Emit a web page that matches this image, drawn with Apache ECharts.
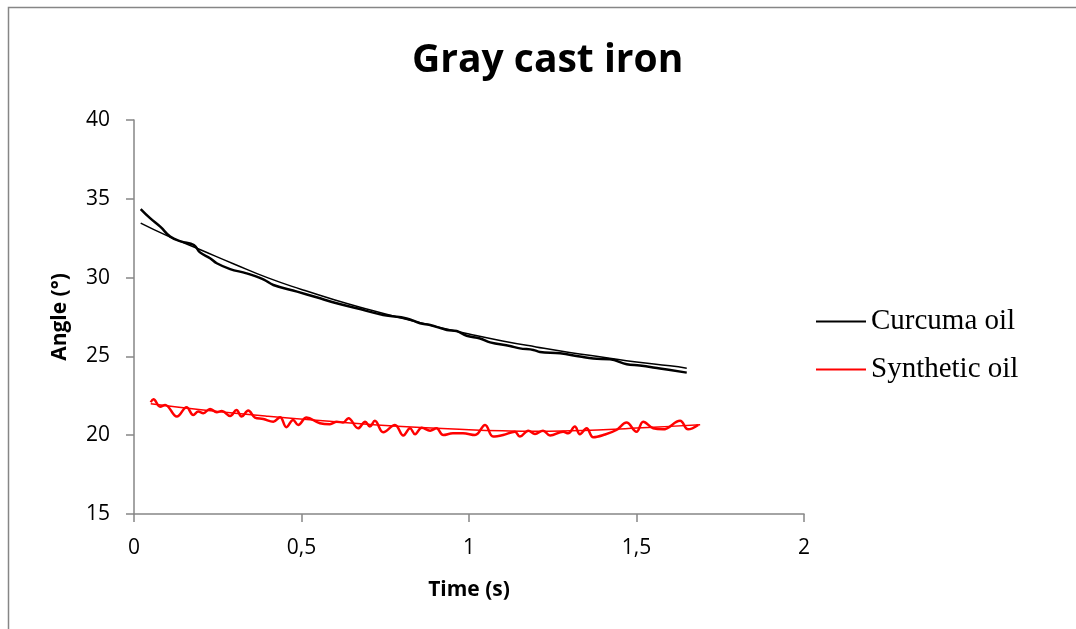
<!DOCTYPE html>
<html>
<head>
<meta charset="utf-8">
<script src="https://cdn.jsdelivr.net/npm/echarts@6/dist/echarts.min.js"></script>
<style>
  html, body { margin: 0; padding: 0; background: #fff; }
  #chart { width: 1076px; height: 629px; }
</style>
</head>
<body>
<div id="chart"></div>
<script>
// values: [time (s), angle (deg)]
const curcumaData = [
  [0.02, 34.35], [0.048, 33.77], [0.08, 33.2], [0.108, 32.6], [0.14, 32.3],
  [0.179, 32.07], [0.197, 31.6], [0.227, 31.23], [0.247, 30.91], [0.287, 30.54],
  [0.336, 30.27], [0.386, 29.89], [0.416, 29.53], [0.487, 29.11], [0.545, 28.75],
  [0.605, 28.37], [0.665, 28.05], [0.744, 27.63], [0.814, 27.41], [0.854, 27.10],
  [0.884, 26.99], [0.934, 26.68], [0.963, 26.61], [0.993, 26.31], [1.033, 26.14],
  [1.063, 25.89], [1.122, 25.66], [1.152, 25.51], [1.192, 25.41], [1.212, 25.28],
  [1.272, 25.20], [1.331, 24.99], [1.371, 24.86], [1.421, 24.82], [1.471, 24.50],
  [1.510, 24.42], [1.570, 24.23], [1.65, 23.97]
];

const curcumaTrend = [
  [0.02, 33.46], [0.1, 32.65], [0.2, 31.75], [0.3, 30.85], [0.4, 29.98],
  [0.5, 29.25], [0.6, 28.58], [0.7, 27.98], [0.8, 27.42], [0.9, 26.9],
  [1.0, 26.42], [1.1, 25.98], [1.2, 25.6], [1.3, 25.25], [1.4, 24.95],
  [1.5, 24.65], [1.6, 24.4], [1.65, 24.25]
];

const syntheticData = [
  [0.05, 22.09], [0.058, 22.28], [0.078, 21.81], [0.093, 21.92], [0.128, 21.18],
  [0.157, 21.77], [0.177, 21.28], [0.192, 21.5], [0.207, 21.4], [0.227, 21.67],
  [0.247, 21.46], [0.262, 21.54], [0.287, 21.22], [0.306, 21.6], [0.321, 21.18],
  [0.341, 21.56], [0.361, 21.12], [0.386, 21.03], [0.416, 20.86], [0.436, 21.14],
  [0.455, 20.51], [0.475, 20.97], [0.490, 20.65], [0.515, 21.12], [0.555, 20.76],
  [0.585, 20.70], [0.605, 20.86], [0.624, 20.80], [0.640, 21.08], [0.669, 20.44],
  [0.690, 20.86], [0.704, 20.55], [0.719, 20.91], [0.744, 20.19], [0.779, 20.65],
  [0.804, 19.98], [0.824, 20.44], [0.839, 20.06], [0.859, 20.48], [0.884, 20.29],
  [0.903, 20.44], [0.923, 20.01], [0.952, 20.12], [0.982, 20.12], [1.018, 20.01],
  [1.048, 20.65], [1.072, 19.91], [1.102, 20.01], [1.137, 20.22], [1.152, 19.91],
  [1.177, 20.29], [1.197, 20.08], [1.221, 20.29], [1.242, 19.98], [1.281, 20.22],
  [1.296, 20.12], [1.316, 20.55], [1.331, 20.06], [1.351, 20.44], [1.371, 19.87],
  [1.401, 20.01], [1.440, 20.33], [1.470, 20.80], [1.5, 20.22], [1.520, 20.86],
  [1.550, 20.44], [1.579, 20.37], [1.630, 20.91], [1.654, 20.37], [1.684, 20.65]
];

const syntheticTrend = [
  [0.05, 22.0], [0.2, 21.62], [0.4, 21.2], [0.6, 20.85], [0.8, 20.55],
  [1.0, 20.35], [1.1, 20.28], [1.2, 20.25], [1.3, 20.28], [1.4, 20.35],
  [1.5, 20.45], [1.6, 20.56], [1.69, 20.66]
];

const seriesNames = ['Curcuma oil', 'Synthetic oil'];
const seriesColors = ['#000000', '#ff0000'];

const chart = echarts.init(document.getElementById('chart'));

const axisFont = { fontFamily: 'Open Sans', fontWeight: 'bold', fontSize: 21, color: '#000' };

chart.setOption({
  animation: false,
  backgroundColor: '#fff',
  title: {
    text: 'Gray cast iron',
    left: 407,
    top: 36,
    textStyle: { fontFamily: 'Open Sans', fontWeight: 'bold', fontSize: 39, color: '#000' }
  },
  // frame of the chart area (only left and top edges are in view)
  graphic: [{
    type: 'polyline',
    shape: { points: [[8.5, 629], [8.5, 7.5], [1076, 7.5]] },
    style: { fill: null, stroke: '#868686', lineWidth: 1.5 },
    silent: true
  }],
  grid: { left: 134, right: 272, top: 120, bottom: 115 },
  legend: {
    data: seriesNames,
    orient: 'vertical',
    left: 811,
    top: 302,
    icon: 'rect',
    itemWidth: 50,
    itemHeight: 2,
    itemGap: 19,
    textStyle: { fontFamily: 'Liberation Serif', fontSize: 29, color: '#000' }
  },
  xAxis: {
    type: 'value',
    min: 0, max: 2, interval: 0.5,
    name: 'Time (s)',
    nameLocation: 'middle',
    nameGap: 66,
    nameTextStyle: axisFont,
    axisLine: { lineStyle: { color: '#868686', width: 1.5 } },
    axisTick: { show: true, length: 8, lineStyle: { color: '#868686', width: 1.5 } },
    axisLabel: {
      margin: 24, fontFamily: 'Open Sans', fontSize: 21, color: '#000',
      formatter: v => String(v).replace('.', ',')
    },
    splitLine: { show: false }
  },
  yAxis: {
    type: 'value',
    min: 15, max: 40, interval: 5,
    name: 'Angle (°)',
    nameLocation: 'middle',
    nameRotate: 90,
    nameGap: 63,
    nameTextStyle: axisFont,
    axisLine: { show: true, lineStyle: { color: '#868686', width: 1.5 } },
    axisTick: { show: true, length: 8, lineStyle: { color: '#868686', width: 1.5 } },
    axisLabel: { margin: 24, fontFamily: 'Open Sans', fontSize: 21, color: '#000' },
    splitLine: { show: false }
  },
  series: [
    {
      name: seriesNames[0], type: 'line', data: curcumaData,
      smooth: 0.4, showSymbol: false, color: seriesColors[0],
      lineStyle: { width: 2.5, color: seriesColors[0] }, z: 3
    },
    {
      name: seriesNames[1], type: 'line', data: syntheticData,
      smooth: 0.4, showSymbol: false, color: seriesColors[1],
      lineStyle: { width: 2.5, color: seriesColors[1] }, z: 3
    },
    {
      name: 'Curcuma trend', type: 'line', data: curcumaTrend,
      smooth: 0.5, showSymbol: false,
      lineStyle: { width: 1.5, color: seriesColors[0] }, z: 2
    },
    {
      name: 'Synthetic trend', type: 'line', data: syntheticTrend,
      smooth: 0.5, showSymbol: false,
      lineStyle: { width: 1.5, color: seriesColors[1] }, z: 2
    }
  ]
});
</script>
</body>
</html>
